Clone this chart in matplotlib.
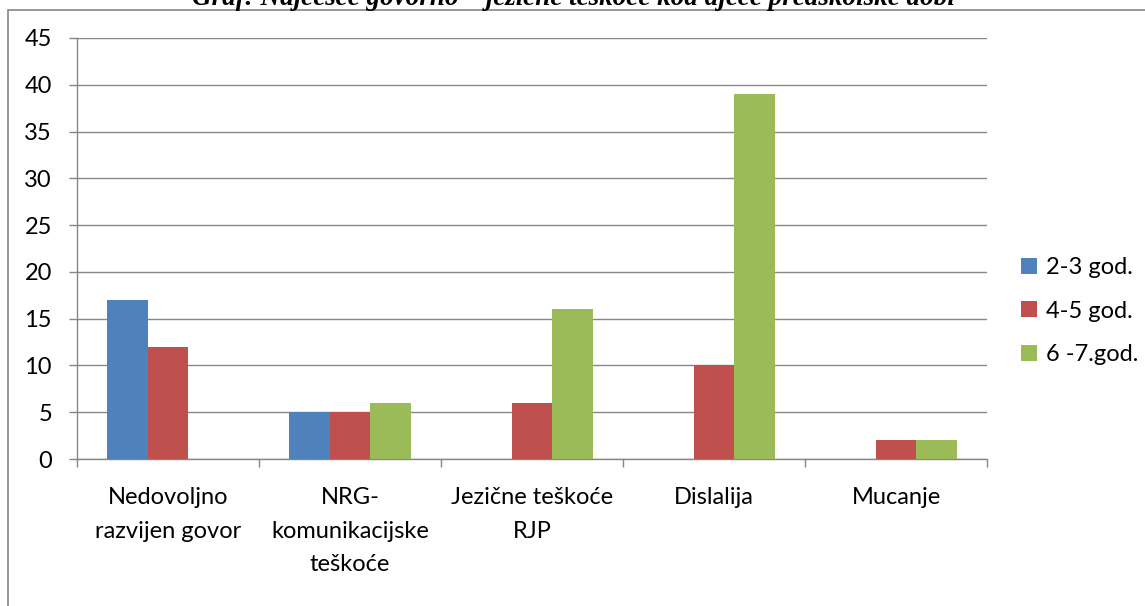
import numpy as np
import matplotlib.pyplot as plt
from matplotlib.patches import Rectangle

categories = ["Nedovoljno\nrazvijen govor", "NRG-\nkomunikacijske\nteškoće",
              "Jezične teškoće\nRJP", "Dislalija", "Mucanje"]
series = ["2-3 god.", "4-5 god.", "6 -7.god."]
v_23 = [17, 5, 0, 0, 0]
v_45 = [12, 5, 6, 10, 2]
v_67 = [0, 6, 16, 39, 2]
colors = ["#4F81BD", "#C0504D", "#9BBB59"]
title = "Graf: Najčešće govorno – jezične teškoće kod djece predškolske dobi"

W, H = 1145, 606
fig = plt.figure(figsize=(W / 100, H / 100), dpi=100)
font = "Lato"
fs = 17

# outer chart frame
fig.patches.append(Rectangle((8 / W, -0.05), 1.2, 1 - 10 / H + 0.05,
                             transform=fig.transFigure, fill=False,
                             edgecolor="#868686", linewidth=1.2))

ax = fig.add_axes([77 / W, 1 - 459 / H, (987 - 77) / W, (459 - 38) / H])

x = np.arange(len(categories))
w = 1 / 4.5
for i, (vals, lab) in enumerate(zip([v_23, v_45, v_67], series)):
    ax.bar(x + (i - 1) * w, vals, width=w, color=colors[i], label=lab, zorder=3)

ax.set_xlim(-0.5, len(categories) - 0.5)
ax.set_ylim(0, 45)
ax.set_yticks(range(0, 46, 5))
ax.yaxis.grid(True, color="#868686", linewidth=1, zorder=0)
ax.set_xticks(np.arange(-0.5, len(categories), 1))
ax.set_xticklabels([])
ax.set_xticks(x, minor=True)
ax.set_xticklabels(categories, minor=True, fontsize=fs, family=font,
                   linespacing=1.75, va="top")
ax.tick_params(axis="x", which="minor", length=0, pad=20)
ax.tick_params(axis="x", which="major", length=6, color="#868686", width=1)
ax.tick_params(axis="y", length=6, color="#868686", width=1, labelsize=fs, pad=12)
for lbl in ax.get_yticklabels():
    lbl.set_family(font)
for s in ["top", "right"]:
    ax.spines[s].set_visible(False)
for s in ["left", "bottom"]:
    ax.spines[s].set_color("#868686")
    ax.spines[s].set_linewidth(1)

leg = fig.legend(loc="center left", bbox_to_anchor=(1000 / W, 1 - 311 / H),
                 frameon=False, prop={"family": font, "size": fs},
                 handlelength=0.65, handleheight=0.65, handletextpad=0.4,
                 labelspacing=0.95)

fig.text(573 / W, 1 - 5 / H, title, ha="center", va="baseline",
         family="Liberation Serif", fontsize=19.5, fontweight="bold",
         fontstyle="italic")

fig.savefig("out.png", dpi=100)
